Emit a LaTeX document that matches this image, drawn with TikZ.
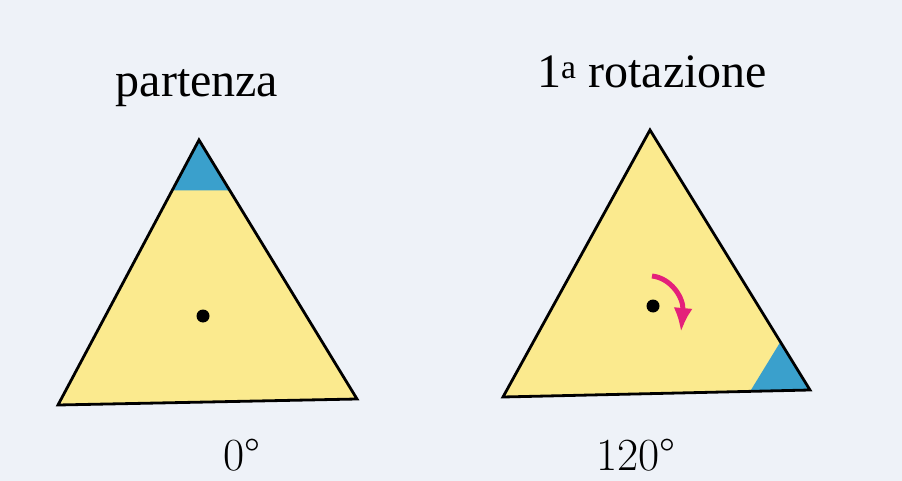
\documentclass[tikz,border=0pt]{standalone}
\usepackage{fontspec}
\newfontfamily\titlefont{Liberation Serif}
\usetikzlibrary{arrows.meta,calc}

\definecolor{pagebg}{RGB}{238,242,248}
\definecolor{triyellow}{RGB}{251,234,142}
\definecolor{tipblue}{RGB}{58,160,204}
\definecolor{turnpink}{RGB}{228,32,122}

\begin{document}
\begin{tikzpicture}[
    x=1pt, y=-1pt,
    trifill/.style={fill=triyellow},
    tipfill/.style={fill=tipblue},
    triline/.style={draw=black, line width=2.8pt, line join=miter},
    pivot/.style={circle, fill=black, inner sep=0pt, minimum size=13pt},
    heading/.style={font=\titlefont\fontsize{48}{54}\selectfont, inner sep=0pt},
    angletext/.style={font=\fontsize{46}{52}\selectfont, inner sep=0pt},
    turnarrow/.style={-{Latex[length=24pt,width=19pt]}, line width=5pt, draw=turnpink}
  ]
    \fill[pagebg] (0,0) rectangle (902,481);
    \useasboundingbox (0,0) rectangle (902,481);

    % starting triangle
    \coordinate (sa) at (199,140);
    \coordinate (sb) at (58,405);
    \coordinate (sc) at (357,399);
    \fill[trifill] (sa) -- (sb) -- (sc) -- cycle;
    \fill[tipfill] (sa) -- ($(sa)!0.19!(sb)$) -- ($(sa)!0.195!(sc)$) -- cycle;
    \draw[triline] (sa) -- (sb) -- (sc) -- cycle;
    \node[pivot] (scentre) at (203,316) {};

    % triangle after the first turn
    \coordinate (ra) at (650,130);
    \coordinate (rb) at (503,397);
    \coordinate (rc) at (810,390);
    \fill[trifill] (ra) -- (rb) -- (rc) -- cycle;
    \fill[tipfill] (rc) -- ($(rc)!0.195!(rb)$) -- ($(rc)!0.185!(ra)$) -- cycle;
    \draw[triline] (ra) -- (rb) -- (rc) -- cycle;
    \node[pivot] (rcentre) at (653,306) {};

    \coordinate (turnfrom) at (652,276);
    \coordinate (turnto) at (681,332);
    \draw[turnarrow] (turnfrom) .. controls (671,278) and (684,298) .. (turnto);

    % labels
    \node[heading] (startlabel) at (197,88) {partenza};
    \node[heading] (turnlabel) at (652,72) {1\textsuperscript{a} rotazione};
    \node[angletext] (startangle) at (242,455) {0°};
    \node[angletext] (turnangle) at (636,455) {120°};
  \end{tikzpicture}
\end{document}
